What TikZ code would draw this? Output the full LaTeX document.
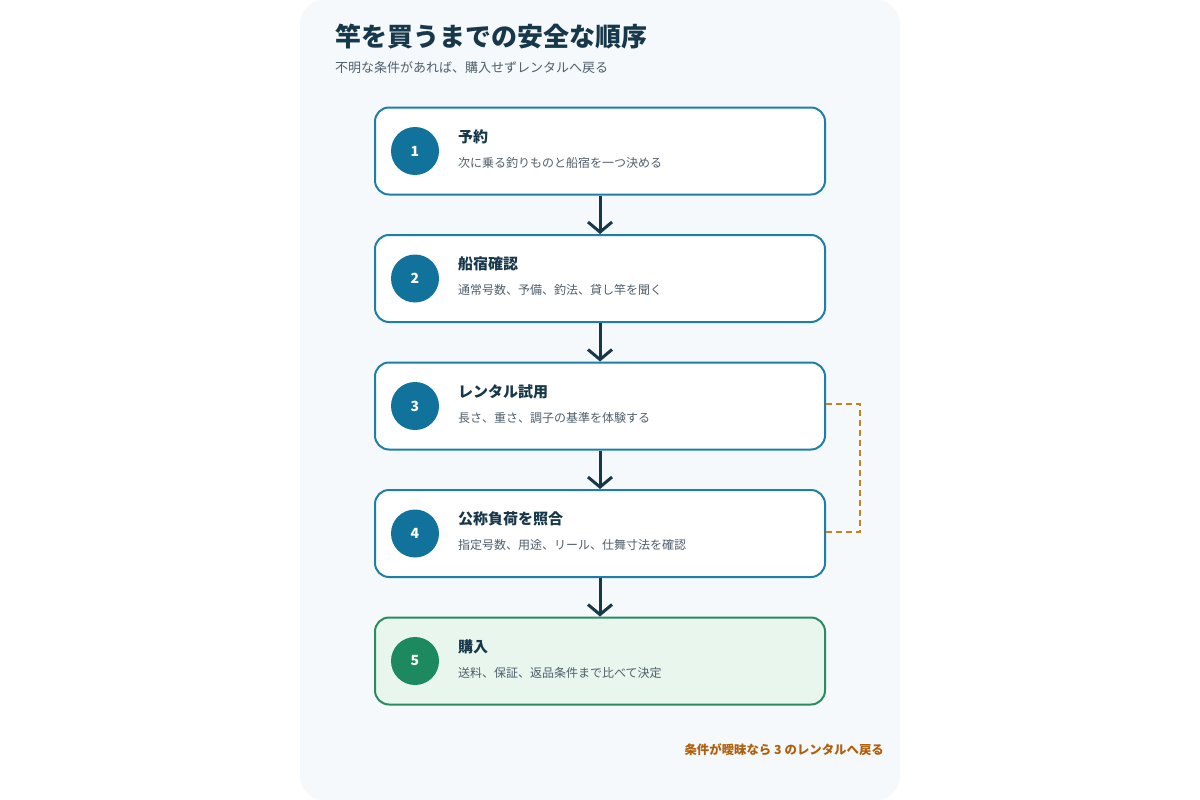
\documentclass[tikz,border=0pt]{standalone}
\usepackage{fontspec}
\setmainfont{Noto Sans CJK JP}
\usetikzlibrary{arrows.meta}
\definecolor{panel}{HTML}{F5F9FC}
\definecolor{ink}{HTML}{17384A}
\definecolor{sub}{HTML}{4F5F6B}
\definecolor{blueb}{HTML}{1D7FA8}
\definecolor{bluec}{HTML}{11729C}
\definecolor{greenb}{HTML}{2A8A62}
\definecolor{greenc}{HTML}{1C8A5E}
\definecolor{greenf}{HTML}{E8F6EE}
\definecolor{loop}{HTML}{C8831F}
\definecolor{note}{HTML}{B0600C}
\tikzset{
  stepbox/.style={draw=blueb, line width=2pt, fill=white, rounded corners=14pt, minimum width=450pt, minimum height=87pt, inner sep=0pt},
  finalbox/.style={stepbox, draw=greenb, fill=greenf},
  numdot/.style={circle, fill=bluec, minimum size=48pt, inner sep=0pt, text=white, font=\fontsize{14}{16}\selectfont\bfseries},
  greendot/.style={numdot, fill=greenc},
  head/.style={anchor=base west, text=ink, font=\fontsize{15}{18}\selectfont\bfseries, inner sep=0pt},
  desc/.style={anchor=base west, text=sub, font=\fontsize{12}{14}\selectfont, inner sep=0pt},
  flow/.style={draw=ink, line width=3pt, -{Straight Barb[length=10pt, width=24pt, line width=3pt]}},
  back/.style={draw=loop, line width=2.8pt, dash pattern=on 6pt off 4pt}
}
\begin{document}
\begin{tikzpicture}[x=1pt, y=-1pt]
\useasboundingbox (0,0) rectangle (1200,800);
\fill[white] (0,0) rectangle (1200,800);
\fill[panel, rounded corners=24pt] (300,0) rectangle (900,800);
\node[anchor=base west, text=ink, font=\fontsize{26}{30}\selectfont\bfseries, inner sep=0pt] (title) at (335,47) {竿を買うまでの安全な順序};
\node[anchor=base west, text=sub, font=\fontsize{13}{15}\selectfont, inner sep=0pt] (subtitle) at (335,73) {不明な条件があれば、購入せずレンタルへ戻る};
% boxes
\node[stepbox] (b1) at (600,151) {};
\node[stepbox] (b2) at (600,278.5) {};
\node[stepbox] (b3) at (600,406) {};
\node[stepbox] (b4) at (600,533.5) {};
\node[finalbox] (b5) at (600,661) {};
% circles
\node[numdot] (c1) at (415,151) {1};
\node[numdot] (c2) at (415,278.5) {2};
\node[numdot] (c3) at (415,406) {3};
\node[numdot] (c4) at (415,533.5) {4};
\node[greendot] (c5) at (415,661) {5};
% texts
\node[head] (h1) at (458,142) {予約};
\node[desc] (d1) at (458,167) {次に乗る釣りものと船宿を一つ決める};
\node[head] (h2) at (458,269.5) {船宿確認};
\node[desc] (d2) at (458,294.5) {通常号数、予備、釣法、貸し竿を聞く};
\node[head] (h3) at (458,397) {レンタル試用};
\node[desc] (d3) at (458,422) {長さ、重さ、調子の基準を体験する};
\node[head] (h4) at (458,524.5) {公称負荷を照合};
\node[desc] (d4) at (458,549.5) {指定号数、用途、リール、仕舞寸法を確認};
\node[head] (h5) at (458,652) {購入};
\node[desc] (d5) at (458,677) {送料、保証、返品条件まで比べて決定};
% arrows
\draw[flow] (b1.south) -- (b2.north);
\draw[flow] (b2.south) -- (b3.north);
\draw[flow] (b3.south) -- (b4.north);
\draw[flow] (b4.south) -- (b5.north);
% loop
\coordinate (l1) at (860,404);
\coordinate (l2) at (860,532);
\draw[back] (b3.east |- l1) -- (l1) -- (l2) -- (b4.east |- l2);
\node[anchor=base east, text=note, font=\fontsize{12.4}{14}\selectfont\bfseries, inner sep=0pt] (n) at (884,754) {条件が曖昧なら 3 のレンタルへ戻る};
\end{tikzpicture}
\end{document}
